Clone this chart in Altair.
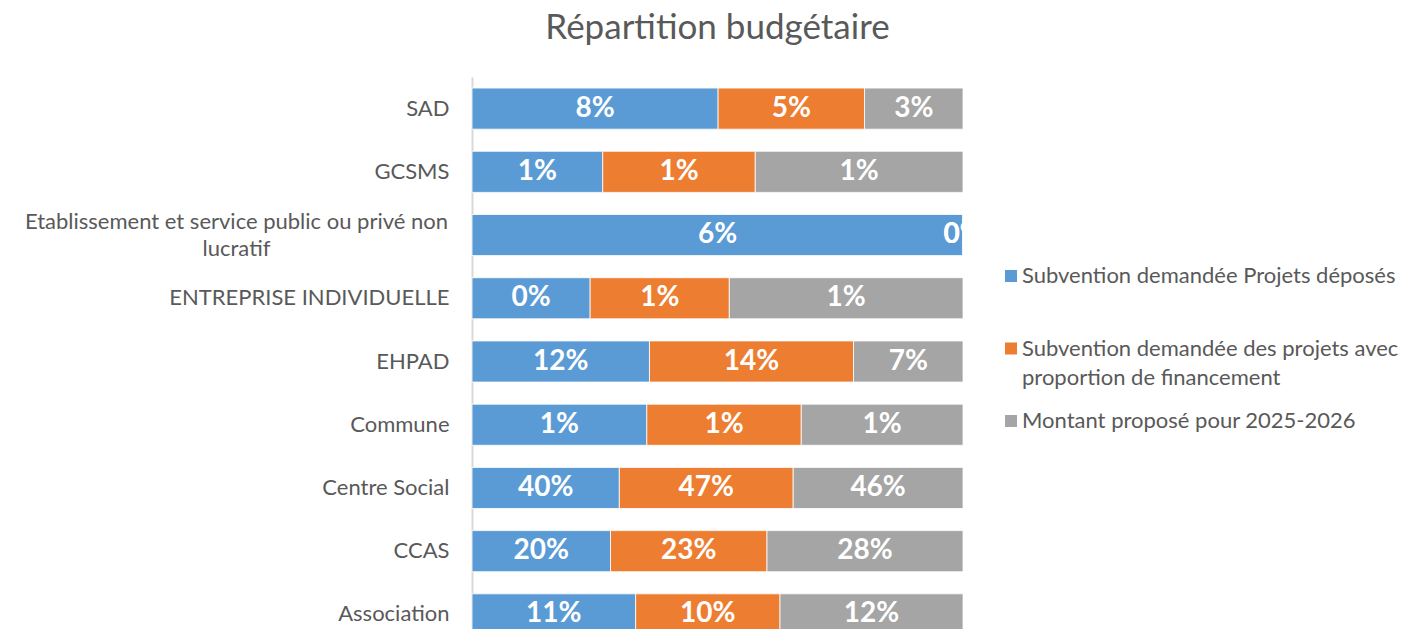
import altair as alt
import pandas as pd

categories = [
    "SAD",
    "GCSMS",
    "Etablissement et service public ou privé non lucratif",
    "ENTREPRISE INDIVIDUELLE",
    "EHPAD",
    "Commune",
    "Centre Social",
    "CCAS",
    "Association",
]
series = [
    "Subvention demandée Projets déposés",
    "Subvention demandée des projets avec proportion de financement",
    "Montant proposé pour 2025-2026",
]
# share (%) of each series' total, per category
projets_deposes = [8.0, 0.9, 6.0, 0.45, 12.0, 1.2, 40.0, 20.0, 11.0]
avec_proportion = [4.76, 1.05, 0.0, 0.53, 13.8, 1.06, 47.2, 22.6, 9.7]
montant_propose = [3.2, 1.43, 0.0, 0.89, 7.4, 1.11, 46.1, 28.3, 12.3]
colors = ["#5B9BD5", "#ED7D31", "#A5A5A5"]

rows = []
for i, vals in enumerate([projets_deposes, avec_proportion, montant_propose]):
    for c, v in zip(categories, vals):
        rows.append({"category": c, "series": series[i], "order": i, "value": v})
df = pd.DataFrame(rows)

LABEL_FONT = "Lato"
TEXT_COLOR = "#595959"
IS_LONG = "indexof(datum.value, 'Etablissement') == 0"

base = alt.Chart(df).transform_joinaggregate(
    total="sum(value)", groupby=["category"]
).transform_calculate(
    frac="datum.total > 0 ? datum.value / datum.total : 0",
    pct="datum.value / 100",
).transform_window(
    cum="sum(frac)", sort=[alt.SortField("order")], groupby=["category"], frame=[None, 0]
).transform_calculate(
    start="datum.cum - datum.frac",
    mid="datum.cum - datum.frac / 2",
)

yenc = alt.Y(
    "category:N",
    sort=categories,
    scale=alt.Scale(paddingInner=0.35, paddingOuter=0.175, range=[0, 569]),
    axis=alt.Axis(
        title=None,
        ticks=False,
        domainColor="#D9D9D9",
        domainWidth=2,
        labelFont=LABEL_FONT,
        labelFontSize=22,
        labelColor=TEXT_COLOR,
        labelLimit=600,
        labelPadding=alt.ConditionalAxisNumber(
            condition={"test": IS_LONG, "value": 236},
            value=23,
        ),
        labelAlign=alt.ConditionalAxisLabelAlign(
            condition={"test": IS_LONG, "value": "center"},
            value="right",
        ),
        labelOffset=alt.ConditionalAxisNumber(
            condition={"test": IS_LONG, "value": -13},
            value=0,
        ),
        labelExpr="indexof(datum.label, 'Etablissement') == 0 ? ['Etablissement et service public ou privé non', 'lucratif'] : datum.label",
        labelLineHeight=27,
    ),
)

xscale = alt.Scale(domain=[0, 1], nice=False)

legend_expr = (
    "indexof(datum.label, 'avec') > 0 ? ['Subvention demandée des projets avec', 'proportion de financement'] : "
    "indexof(datum.label, 'Projets') > 0 ? [datum.label, ''] : datum.label"
)

bars = base.mark_bar(stroke="white", strokeWidth=0.8).encode(
    x=alt.X("start:Q", scale=xscale, axis=None),
    x2="cum:Q",
    y=yenc,
    color=alt.Color(
        "series:N",
        scale=alt.Scale(domain=series, range=colors),
        sort=series,
        legend=alt.Legend(
            title=None,
            orient="none",
            legendX=528,
            legendY=188,
            symbolType="square",
            symbolSize=144,
            symbolStrokeWidth=0,
            labelFont=LABEL_FONT,
            labelFontSize=22,
            labelColor=TEXT_COLOR,
            labelLimit=700,
            labelOffset=0,
            rowPadding=21.5,
            padding=0,
            labelExpr=legend_expr,
        ),
    ),
)

texts = base.mark_text(
    color="white", font=LABEL_FONT, fontSize=28, fontWeight="bold", clip=True
).encode(
    x=alt.X("mid:Q", scale=xscale, axis=None),
    y=alt.Y("category:N", sort=categories),
    text=alt.Text("pct:Q", format=".0%"),
)

chart = alt.layer(bars, texts).properties(
    width=491,
    height=552,
    padding={"left": 464, "top": 69, "right": 442, "bottom": 0},
    autosize=alt.AutoSizeParams(type="none"),
    title=alt.TitleParams(
        "Répartition budgétaire",
        font=LABEL_FONT,
        fontSize=35,
        fontWeight="normal",
        color=TEXT_COLOR,
        anchor="middle",
        offset=31,
    ),
).configure(style={"guide-label": {"lineHeight": 29}}).configure_view(stroke=None)

chart.save("out.html", embed_options={"renderer": "svg", "actions": False})
